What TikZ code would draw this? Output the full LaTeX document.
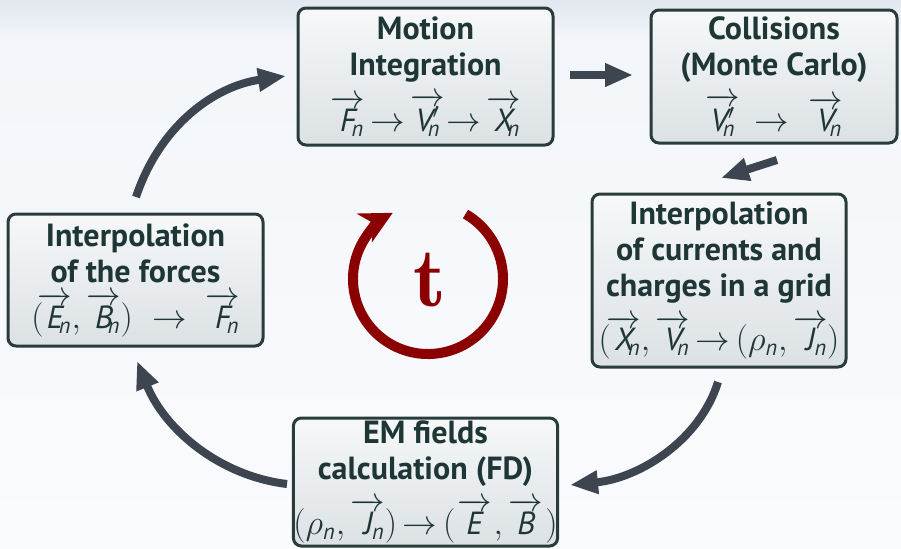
\documentclass[tikz,border=0pt]{standalone}
\usepackage{amsmath}
\usepackage{fontspec}
\setmainfont{PT Sans}
\usetikzlibrary{arrows.meta}
\definecolor{txt}{HTML}{1F3636}
\definecolor{frame}{HTML}{2A3B3B}
\definecolor{arr}{HTML}{3D4550}
\definecolor{tred}{HTML}{8B0000}
\definecolor{bgtop}{HTML}{E2E7F0}
\definecolor{bgmid}{HTML}{F3F6FA}
\definecolor{bgbot}{HTML}{FAFBFD}
\definecolor{boxtop}{HTML}{F6F8F9}
\definecolor{boxbot}{HTML}{DCE1E4}
\newcommand\ml[1]{\text{\normalfont\itshape #1}}
\newcommand\vb[1]{\overrightarrow{\ml{#1}}}
\newcommand\vs[2]{\overrightarrow{\ml{#1}}\mkern-7mu{}_{\ml{#2}}}
\newcommand\vp[2]{\overrightarrow{\ml{#1}{}^{\prime}}\mkern-9mu{}_{\ml{#2}}}
\newcommand\ra{\mkern-2mu\rightarrow\mkern-2mu}
\tikzset{
  stagebox/.style={draw=frame, line width=1.5pt, rounded corners=4pt,
    top color=boxtop, bottom color=boxbot, text=txt, align=center,
    inner sep=0pt, font=\bfseries\fontsize{16}{18}\selectfont},
  flow/.style={draw=arr, line width=4pt,
    -{Triangle[length=14pt,width=11pt]}},
}
\begin{document}
\begin{tikzpicture}[x=0.5pt,y=-0.5pt]
\useasboundingbox (0,0) rectangle (901,548);
\shade[top color=bgtop, bottom color=bgmid] (0,0) rectangle (901,40);
\shade[top color=bgmid, bottom color=bgbot] (0,40) rectangle (901,548);

\node[stagebox, minimum width=127.5pt, minimum height=68.5pt] (mi) at (425.5,76.5)
  {Motion\\Integration\\[5pt]$\vs{F}{n} \ra \vp{V}{n} \ra \vs{X}{n}$};
\node[stagebox, minimum width=123pt, minimum height=66.5pt] (col) at (774,76.5)
  {Collisions\\(Monte Carlo)\\[5pt]$\vp{V}{n} \;\rightarrow\; \vs{V}{n}$};
\node[stagebox, minimum width=127pt, minimum height=86.5pt] (cur) at (719,280.5)
  {Interpolation\\of currents and\\charges in a grid\\[5pt]$(\mkern-2mu\vs{X}{n}, \vs{V}{n} \ra (\rho_{\ml{n}}, \vs{J}{n})$};
\node[stagebox, minimum width=127.5pt, minimum height=64pt] (em) at (425.5,482)
  {EM fields\\calculation (FD)\\[5pt]$(\rho_{\ml{n}}, \vs{J}{n}) \ra (\mkern1mu\vb{E}\mkern1mu, \vb{B}\mkern1mu)$};
\node[stagebox, minimum width=127.5pt, minimum height=66pt] (frc) at (135.5,280)
  {Interpolation\\of the forces\\[5pt]$(\mkern-3mu\vs{E}{n}, \vs{B}{n}) \;\rightarrow\; \vs{F}{n}$};

\coordinate (a1s) at (570,75);  \coordinate (a1e) at (633,75);
\coordinate (a2s) at (777,160); \coordinate (a2e) at (721,178);
\coordinate (a3s) at (718,382); \coordinate (a3e) at (570,485);
\coordinate (a4s) at (287,484); \coordinate (a4e) at (137,361);
\coordinate (a5s) at (136,197); \coordinate (a5e) at (286,76);

\draw[flow] (a1s) -- (a1e);
\draw[flow] (a2s) -- (a2e);
\draw[flow] (a3s) .. controls (700,440) and (640,478) .. (a3e);
\draw[flow] (a4s) .. controls (220,476) and (165,430) .. (a4e);
\draw[flow] (a5s) .. controls (160,125) and (215,86) .. (a5e);

\coordinate (cc) at (428,279);
\draw[draw=tred, line width=5pt, -{Stealth[length=16pt,width=16pt,inset=5pt]}]
  (cc) ++(-60:75) arc[start angle=-60, end angle=242, radius=75];
\node[text=tred, font=\fontfamily{lmr}\bfseries\fontsize{42}{42}\selectfont] (t) at (430,280) {t};
\end{tikzpicture}
\end{document}
